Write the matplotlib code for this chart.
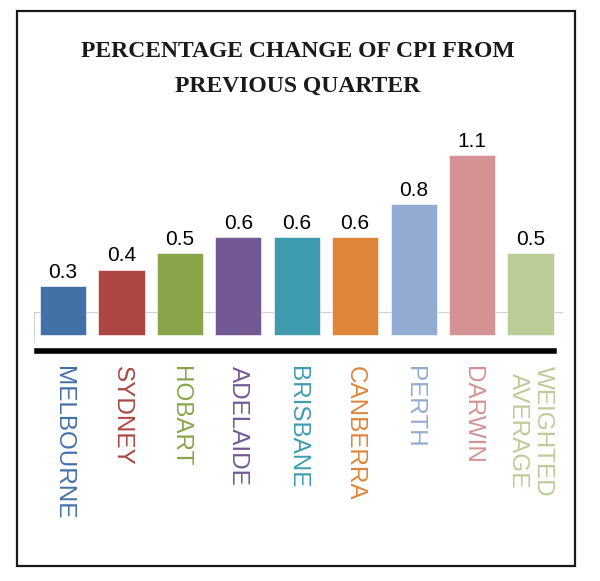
import matplotlib.pyplot as plt
from matplotlib.patches import Rectangle

cities = ["MELBOURNE", "SYDNEY", "HOBART", "ADELAIDE", "BRISBANE",
          "CANBERRA", "PERTH", "DARWIN", "WEIGHTED\nAVERAGE"]
cpi_change = [0.3, 0.4, 0.5, 0.6, 0.6, 0.6, 0.8, 1.1, 0.5]
colors = ["#4470a8", "#ad4543", "#88a54a", "#725994", "#3f9caf",
          "#de8538", "#93abd2", "#d49294", "#bacd97"]
title_lines = ["PERCENTAGE CHANGE OF CPI FROM", "PREVIOUS QUARTER"]

W, H = 600, 581
fig = plt.figure(figsize=(W / 100, H / 100), dpi=100)

# outer frame
fig.patches.append(Rectangle((17 / W, 1 - 566 / H), (575 - 17) / W, (566 - 11) / H,
                             transform=fig.transFigure, fill=False,
                             edgecolor="#1a1a1a", lw=1.6))

for line, base_y in zip(title_lines, [57, 92]):
    fig.text(298 / W, 1 - base_y / H, line, ha="center", va="baseline",
             family="Liberation Serif", weight="bold", fontsize=17,
             color="#1a1a1a")

# axes: box from x 34..563 px, y 130..343 px
ax = fig.add_axes([34 / W, 1 - 343 / H, (563 - 34) / W, (343 - 130) / H])
x = list(range(len(cities)))
bars = ax.bar(x, cpi_change, width=0.79, color=colors, edgecolor="white",
              linewidth=0.4, zorder=3)
ax.bar_label(bars, labels=[f"{v:.1f}" for v in cpi_change], padding=3,
             fontsize=15, family="Liberation Sans", color="black")

ax.set_xlim(-0.496, 8.556)
ax.set_ylim(-0.049, 1.253)

# faint floor box
ax.add_patch(Rectangle((-0.496, -0.049), 9.052, 0.19, fill=False,
                       edgecolor="#cfcfcf", lw=0.8, zorder=1))

for side in ["left", "right", "top"]:
    ax.spines[side].set_visible(False)
ax.spines["bottom"].set_position(("data", -0.095))
ax.spines["bottom"].set_bounds(-0.445, 8.40)
ax.spines["bottom"].set_linewidth(4)
ax.spines["bottom"].set_color("black")

ax.set_yticks([])
ax.set_xticks(x)
ax.set_xticklabels(cities, rotation=270, fontsize=17.5, family="Liberation Sans",
                   va="top", ha="center")
for lbl, c in zip(ax.get_xticklabels(), colors):
    lbl.set_color(c)
ax.tick_params(axis="x", length=0, pad=11)
ax.patch.set_alpha(0)

fig.savefig("out.png", dpi=100)
